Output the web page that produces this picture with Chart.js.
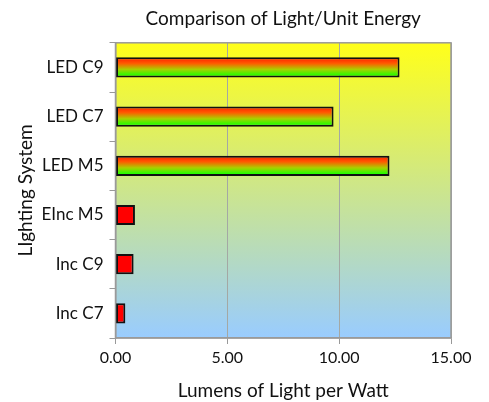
<!DOCTYPE html>
<html>
<head>
<meta charset="utf-8">
<script src="https://cdn.jsdelivr.net/npm/chart.js@4.4.0/dist/chart.umd.min.js"></script>
<style>
  html, body { margin: 0; padding: 0; background: #fff; }
  #wrap { width: 489px; height: 402px; }
</style>
</head>
<body>
<div id="wrap"><canvas id="myChart"></canvas></div>
<script>
// chart data
const categories = ['LED C9', 'LED C7', 'LED M5', 'EInc M5', 'Inc C9', 'Inc C7'];
const lumensPerWatt = [12.7, 9.75, 12.25, 0.87, 0.81, 0.44];
const xTicks = [0, 5, 10, 15];

const BAR_PCT = 0.41;

// plot area background: yellow fading to light blue
const areaBackground = {
  id: 'areaBackground',
  beforeDraw(chart) {
    const { ctx, chartArea } = chart;
    const g = ctx.createLinearGradient(0, chartArea.top, 0, chartArea.bottom);
    g.addColorStop(0, '#ffff1a');
    g.addColorStop(1, '#99ccff');
    ctx.save();
    ctx.fillStyle = g;
    ctx.fillRect(chartArea.left, chartArea.top, chartArea.width, chartArea.height);
    ctx.restore();
  },
  afterDatasetsDraw(chart) {
    const { ctx, chartArea } = chart;
    ctx.save();
    ctx.strokeStyle = '#9a9a9a';
    ctx.lineWidth = 1.5;
    ctx.strokeRect(chartArea.left, chartArea.top, chartArea.width, chartArea.height);
    ctx.restore();
  }
};

function barFill(context) {
  const chart = context.chart;
  const label = categories[context.dataIndex];
  if (!label || label.indexOf('LED') !== 0) {
    return '#ff0000';
  }
  const area = chart.chartArea;
  const yScale = chart.scales.y;
  if (!area || !yScale) {
    return '#ff6600';
  }
  const mid = yScale.getPixelForValue(context.dataIndex);
  const half = (area.bottom - area.top) / categories.length * BAR_PCT / 2;
  const g = chart.ctx.createLinearGradient(0, mid - half, 0, mid + half);
  g.addColorStop(0, '#ff1a00');
  g.addColorStop(0.3, '#ff5a00');
  g.addColorStop(0.6, '#a8d000');
  g.addColorStop(0.9, '#22ff00');
  g.addColorStop(1, '#118800');
  return g;
}

const font = 'Lato';

const ctx = document.getElementById('myChart');
const myChart = new Chart(ctx, {
  type: 'bar',
  data: {
    labels: categories,
    datasets: [{
      label: 'Lumens per Watt',
      data: lumensPerWatt,
      backgroundColor: barFill,
      borderColor: '#111',
      borderWidth: 2,
      borderSkipped: false,
      barPercentage: BAR_PCT,
      categoryPercentage: 1
    }]
  },
  options: {
    indexAxis: 'y',
    responsive: true,
    maintainAspectRatio: false,
    animation: false,
    layout: { padding: { left: 12, right: 38, top: 0, bottom: 0 } },
    plugins: {
      legend: { display: false },
      tooltip: { enabled: false },
      title: {
        display: true,
        fullSize: false,
        text: 'Comparison of Light/Unit Energy',
        color: '#111',
        font: { family: font, size: 19, weight: 'normal' },
        padding: { top: 7, bottom: 13 }
      }
    },
    scales: {
      x: {
        min: 0,
        max: 15,
        afterBuildTicks(scale) {
          scale.ticks = xTicks.map(v => ({ value: v }));
        },
        ticks: {
          color: '#111',
          font: { family: font, size: 16 },
          padding: 4,
          callback: v => Number(v).toFixed(2)
        },
        grid: { color: '#a4a8a4', lineWidth: 1, tickLength: 6, tickColor: '#999' },
        border: { color: '#9a9a9a', width: 1.5 },
        title: {
          display: true,
          text: 'Lumens of Light per Watt',
          color: '#111',
          font: { family: font, size: 19 },
          padding: { top: 8, bottom: 0 }
        }
      },
      y: {
        afterFit(scale) {
          scale.width = 103.5;
        },
        ticks: {
          color: '#111',
          font: { family: font, size: 17 },
          padding: 6
        },
        grid: { drawOnChartArea: false, tickLength: 6, color: '#999', offset: true },
        border: { color: '#9a9a9a', width: 1.5 },
        title: {
          display: true,
          text: 'LIghting System',
          color: '#111',
          font: { family: font, size: 19 },
          padding: { top: 2, bottom: 2 }
        }
      }
    }
  },
  plugins: [areaBackground]
});
</script>
</body>
</html>
